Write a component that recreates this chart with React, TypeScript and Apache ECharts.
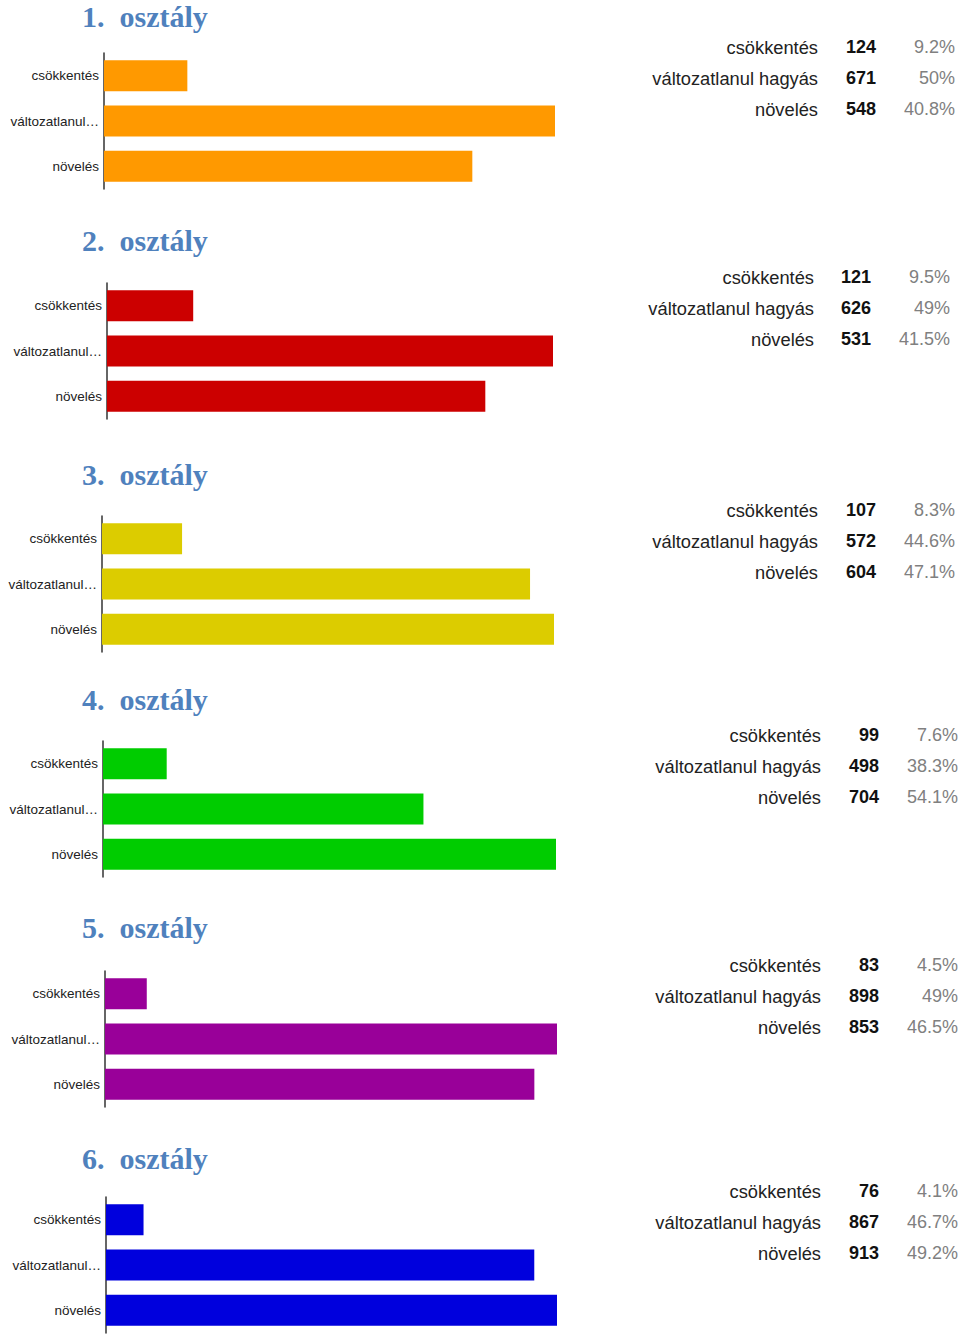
import React, { useEffect, useRef } from "react";
import * as echarts from "echarts";

const titles = ["1.  osztály", "2.  osztály", "3.  osztály", "4.  osztály", "5.  osztály", "6.  osztály"];
const categories = ["csökkentés", "változatlanul hagyás", "növelés"];
const counts1 = [124, 671, 548];
const counts2 = [121, 626, 531];
const counts3 = [107, 572, 604];
const counts4 = [99, 498, 704];
const counts5 = [83, 898, 853];
const counts6 = [76, 867, 913];
const pct1 = ["9.2%", "50%", "40.8%"];
const pct2 = ["9.5%", "49%", "41.5%"];
const pct3 = ["8.3%", "44.6%", "47.1%"];
const pct4 = ["7.6%", "38.3%", "54.1%"];
const pct5 = ["4.5%", "49%", "46.5%"];
const pct6 = ["4.1%", "46.7%", "49.2%"];
const colors = ["#ff9900", "#cc0000", "#dccc00", "#00cc00", "#990099", "#0000dd"];

const countsAll = [counts1, counts2, counts3, counts4, counts5, counts6];
const pctAll = [pct1, pct2, pct3, pct4, pct5, pct6];

// layout
const gridTop = [53, 283, 516, 741, 971, 1197];
const gridLeft = [104, 107, 102, 103, 105, 106];
const gridWidth = [451, 446, 452, 453, 452, 451];
const titleDy = [-41, -43, -42, -42, -44, -39];
const tableRight = [
  [818, 876, 955],
  [814, 871, 950],
  [818, 876, 955],
  [821, 879, 958],
  [821, 879, 958],
  [821, 879, 958],
];
const GRID_H = 136;
const ROW_H = 31;

export default function App() {
  const ref = useRef<HTMLDivElement>(null);
  useEffect(() => {
    if (!ref.current) return;
    const chart = echarts.init(ref.current, undefined, { renderer: "svg" });
    const grids: any[] = [];
    const xAxes: any[] = [];
    const yAxes: any[] = [];
    const series: any[] = [];
    const graphics: any[] = [];
    countsAll.forEach((counts, i) => {
      grids.push({ left: gridLeft[i], top: gridTop[i], width: gridWidth[i], height: GRID_H });
      xAxes.push({ gridIndex: i, type: "value", min: 0, max: Math.max(...counts), show: false });
      yAxes.push({
        gridIndex: i,
        type: "category",
        inverse: true,
        data: categories,
        axisLine: { show: true, lineStyle: { color: "#333", width: 1.5 } },
        axisTick: { show: false },
        axisLabel: {
          color: "#222",
          fontSize: 13.5,
          fontFamily: "Liberation Sans, Arial",
          margin: 5,
          formatter: (v: string) => (v.length > 14 ? v.slice(0, 13) + "…" : v),
        },
      });
      series.push({
        type: "bar",
        xAxisIndex: i,
        yAxisIndex: i,
        data: counts,
        barWidth: 31,
        itemStyle: { color: colors[i] },
      });
      graphics.push({
        type: "text",
        x: 82,
        y: Math.max(gridTop[i] + titleDy[i], 16),
        style: {
          text: titles[i],
          fill: "#4f81bd",
          font: "bold 30px 'Liberation Serif', serif",
          lineHeight: 28,
          textVerticalAlign: "middle",
        },
      });
      categories.forEach((c, r) => {
        const y = gridTop[i] - 6 + r * ROW_H;
        const tr = tableRight[i];
        graphics.push({
          type: "text",
          x: tr[0],
          y,
          style: { text: c, fill: "#222", font: "18.3px 'Liberation Sans', Arial", textAlign: "right", textVerticalAlign: "middle" },
        });
        graphics.push({
          type: "text",
          x: tr[1],
          y,
          style: { text: String(counts[r]), fill: "#111", font: "bold 18px 'Liberation Sans', Arial", textAlign: "right", textVerticalAlign: "middle" },
        });
        graphics.push({
          type: "text",
          x: tr[2],
          y,
          style: { text: pctAll[i][r], fill: "#808080", font: "18px 'Liberation Sans', Arial", textAlign: "right", textVerticalAlign: "middle" },
        });
      });
    });
    chart.setOption({
      animation: false,
      backgroundColor: "#fff",
      grid: grids,
      xAxis: xAxes,
      yAxis: yAxes,
      series,
      graphic: graphics,
    });
    return () => chart.dispose();
  }, []);
  return <div ref={ref} style={{ position: "absolute", left: 0, top: 0, width: 960, height: 1337 }} />;
}
